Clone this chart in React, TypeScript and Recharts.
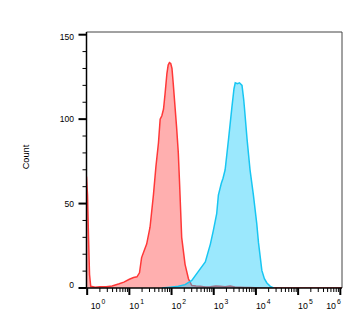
import React from 'react';
import { ComposedChart, Area, XAxis, YAxis, ReferenceLine } from 'recharts';

// x values are log10 of fluorescence intensity (decades)
const redX = [-0.016, 0.008, 0.032, 0.056, 0.084, 0.19, 0.3, 0.45, 0.59, 0.76, 0.87, 1.0, 1.1, 1.18, 1.24, 1.29, 1.35, 1.41, 1.49, 1.57, 1.63, 1.69, 1.73, 1.77, 1.81, 1.85, 1.89, 1.92, 1.95, 1.98, 2.01, 2.04, 2.08, 2.12, 2.16, 2.19, 2.24, 2.32, 2.4, 2.48, 2.58, 2.68, 2.8, 2.92, 3.05, 3.15, 3.27, 3.39, 3.5, 3.63, 3.75, 3.86, 4.1, 6.04];
const redY = [66, 55, 30, 8, 1, 0.5, 0.8, 0.8, 1.2, 2.5, 3.5, 5.2, 6.2, 6.6, 9, 18, 22, 26, 36, 55, 72, 86, 100, 102, 106, 116, 127, 132, 133.5, 133, 130, 121, 108, 95, 80, 62, 30, 14, 5.5, 1.5, 1.2, 1, 0.6, 0.7, 1.2, 1, 0.8, 1.2, 0.6, 0.5, 0.3, 0.3, 0, 0];

const blueX = [1.77, 1.97, 2.16, 2.32, 2.48, 2.64, 2.8, 2.92, 2.99, 3.07, 3.11, 3.18, 3.22, 3.27, 3.35, 3.43, 3.48, 3.51, 3.56, 3.61, 3.67, 3.71, 3.73, 3.79, 3.86, 3.94, 4.02, 4.06, 4.14, 4.2, 4.26, 4.34, 4.42];
const blueY = [0, 0.5, 1, 2, 4.5, 10, 15.4, 26, 34, 44, 55, 62, 65, 70, 88, 107, 118, 121.5, 121, 121.5, 120, 111.6, 106, 88, 70, 55, 38, 27, 10.4, 5.5, 3, 1, 0];

const xDecades = [0, 1, 2, 3, 4, 5, 6];
const yTicks = [0, 10, 20, 30, 40, 50, 60, 70, 80, 90, 100, 110, 120, 130, 140, 150];
const yMajor = [0, 50, 100, 150];

const X_MIN = -0.016;
const X_MAX = 6.04;
const Y_MAX = 151.6;

const xTicks: number[] = [];
xDecades.forEach((d) => {
  xTicks.push(d);
  if (d < 6) {
    for (let k = 2; k <= 9; k++) xTicks.push(d + Math.log10(k));
  }
});

const rows = new Map<number, any>();
redX.forEach((x, i) => {
  const r = rows.get(x) || { x };
  r.red = redY[i];
  rows.set(x, r);
});
blueX.forEach((x, i) => {
  const r = rows.get(x) || { x };
  r.blue = blueY[i];
  rows.set(x, r);
});
const data = Array.from(rows.values()).sort((a, b) => a.x - b.x);

const FONT = 'Liberation Sans, Arial, sans-serif';

const XTick = (props: any) => {
  const { x, y, payload } = props;
  const v = payload.value as number;
  const major = Math.abs(v - Math.round(v)) < 1e-6;
  const d = Math.round(v);
  let anchor: 'start' | 'end' = 'start';
  let tx = x;
  if (major && d === 0) tx = x + 3.5;
  if (major && d === 6) {
    anchor = 'end';
    tx = x + 0.5;
  }
  return (
    <g>
      <line x1={x} x2={x} y1={y} y2={y + (major ? 7 : 4)} stroke="#000" strokeWidth={major ? 2 : 1} />
      {major && (
        <text x={tx} y={y + 20.5} textAnchor={anchor} fontSize={8.8} fontFamily={FONT} fill="#000">
          10
          <tspan dx={1} dy={-5} fontSize={6.8}>
            {d}
          </tspan>
        </text>
      )}
    </g>
  );
};

const YTick = (props: any) => {
  const { x, y, payload } = props;
  const v = payload.value as number;
  const major = yMajor.includes(v);
  let by = y + 3;
  if (v === 0) by = y - 0.5;
  if (v === 150) by = y + 5.5;
  return (
    <g>
      <line x1={x - (major ? 8 : 4)} x2={x} y1={y} y2={y} stroke="#000" strokeWidth={major ? 2 : 1} />
      {major && (
        <text x={x - 12.5} y={by} textAnchor="end" fontSize={8.5} fontFamily={FONT} fill="#000">
          {v}
        </text>
      )}
    </g>
  );
};

export default function App() {
  return (
    <div style={{ position: 'absolute', left: 0, top: 0, width: 352, height: 320, background: '#fff' }}>
      <ComposedChart width={352} height={320} data={data} margin={{ top: 32, right: 10, bottom: 0, left: 0 }}>
        <XAxis
          type="number"
          dataKey="x"
          domain={[X_MIN, X_MAX]}
          allowDataOverflow
          ticks={xTicks}
          interval={0}
          tick={<XTick />}
          tickLine={false}
          tickSize={0}
          tickMargin={0}
          height={32}
          axisLine={{ stroke: '#000', strokeWidth: 1.5 }}
        />
        <YAxis
          type="number"
          domain={[0, Y_MAX]}
          allowDataOverflow
          ticks={yTicks}
          interval={0}
          tick={<YTick />}
          tickLine={false}
          tickSize={0}
          tickMargin={0}
          width={86.5}
          axisLine={{ stroke: '#000', strokeWidth: 1.5 }}
          label={{
            content: () => (
              <text
                x={29}
                y={157}
                transform="rotate(-90 29 157)"
                textAnchor="middle"
                fontSize={9.2}
                fontFamily={FONT}
                fill="#000"
              >
                Count
              </text>
            ),
          }}
        />
        <ReferenceLine y={Y_MAX} stroke="#444" strokeWidth={1} ifOverflow="visible" />
        <ReferenceLine x={X_MAX} stroke="#444" strokeWidth={1} ifOverflow="visible" />
        <Area
          type="linear"
          dataKey="red"
          stroke="#ff3838"
          strokeWidth={1.5}
          fill="#ff3838"
          fillOpacity={0.4}
          connectNulls
          dot={false}
          activeDot={false}
          isAnimationActive={false}
        />
        <Area
          type="linear"
          dataKey="blue"
          stroke="#18c6f2"
          strokeWidth={1.5}
          fill="#10c8fa"
          fillOpacity={0.42}
          connectNulls
          dot={false}
          activeDot={false}
          isAnimationActive={false}
        />
      </ComposedChart>
    </div>
  );
}
